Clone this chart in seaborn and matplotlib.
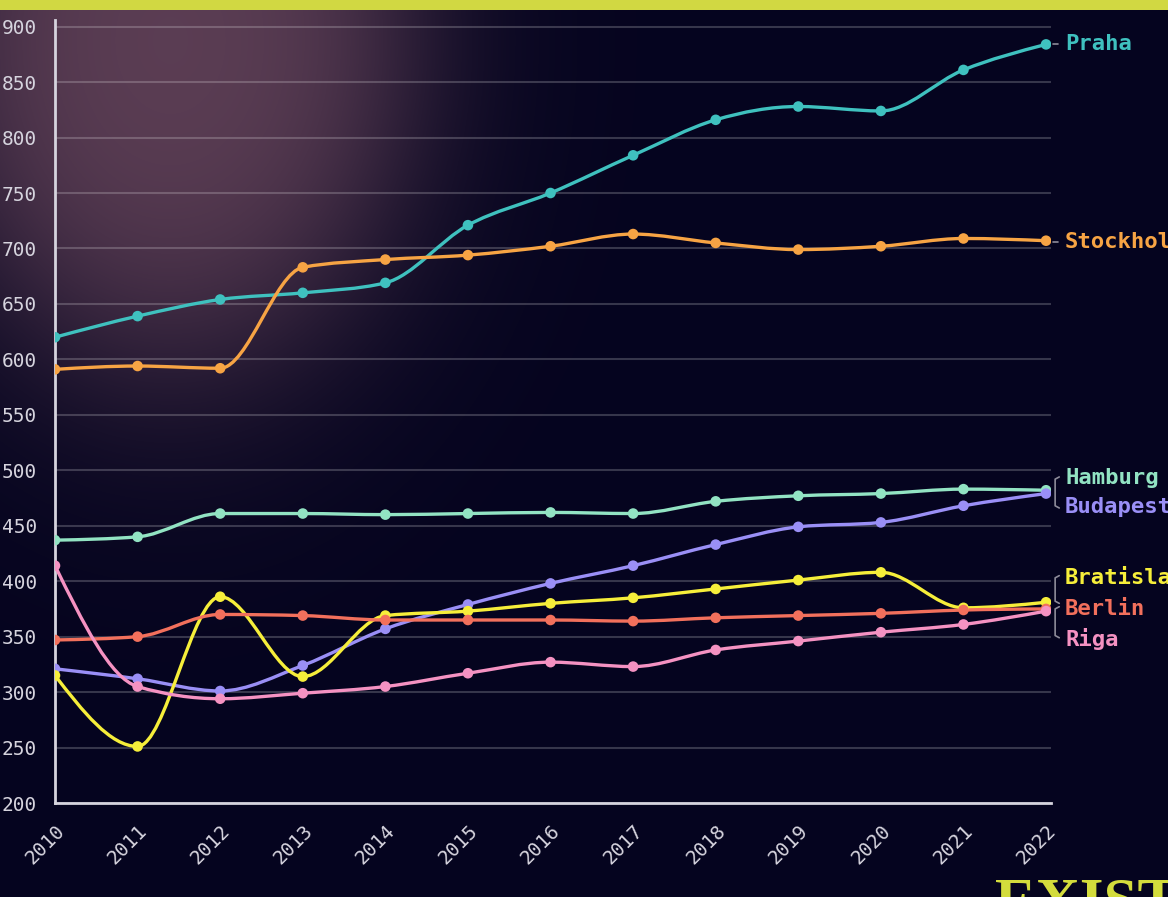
import numpy as np
import pandas as pd
import seaborn as sns
import matplotlib
matplotlib.use("Agg")
import matplotlib.pyplot as plt
from matplotlib.path import Path
from matplotlib.patches import PathPatch, Rectangle

years = list(range(2010, 2023))

praha = [620, 639, 654, 660, 669, 721, 750, 784, 816, 828, 824, 861, 884]
stockholm = [591, 594, 592, 683, 690, 694, 702, 713, 705, 699, 702, 709, 707]
hamburg = [437, 440, 461, 461, 460, 461, 462, 461, 472, 477, 479, 483, 482]
budapest = [321, 312, 301, 324, 357, 379, 398, 414, 433, 449, 453, 468, 479]
bratislava = [315, 251, 386, 314, 369, 373, 380, 385, 393, 401, 408, 376, 381]
berlin = [347, 350, 370, 369, 365, 365, 365, 364, 367, 369, 371, 374, 375]
riga = [414, 305, 294, 299, 305, 317, 327, 323, 338, 346, 354, 361, 373]

cities = ["Praha", "Stockholm", "Hamburg", "Budapest", "Bratislava", "Berlin", "Riga"]
series = [praha, stockholm, hamburg, budapest, bratislava, berlin, riga]
colors = ["#3fc1bf", "#f7a444", "#92e3c3", "#9a8ff6", "#f6ee3a", "#f2705c", "#f592c2"]
# label y positions (data units) for the right-hand labels
label_y = [884, 706, 493, 467, 403, 375, 348]

BG = "#05041f"


def monotone_path(xs, ys):
    # d3.curveMonotoneX as cubic bezier segments
    xs = np.asarray(xs, float)
    ys = np.asarray(ys, float)
    n = len(xs)
    h = np.diff(xs)
    s = np.diff(ys) / h
    t = np.zeros(n)
    for i in range(1, n - 1):
        p = (s[i - 1] * h[i] + s[i] * h[i - 1]) / (h[i - 1] + h[i])
        sg = (1 if s[i - 1] >= 0 else -1) + (1 if s[i] >= 0 else -1)
        t[i] = sg * min(abs(s[i - 1]), abs(s[i]), 0.5 * abs(p))
    t[0] = (3 * s[0] - t[1]) / 2
    t[-1] = (3 * s[-1] - t[-2]) / 2
    verts = [(xs[0], ys[0])]
    codes = [Path.MOVETO]
    for i in range(n - 1):
        dx = h[i] / 3
        verts += [(xs[i] + dx, ys[i] + dx * t[i]),
                  (xs[i + 1] - dx, ys[i + 1] - dx * t[i + 1]),
                  (xs[i + 1], ys[i + 1])]
        codes += [Path.CURVE4] * 3
    return Path(verts, codes)


sns.set_style("dark", {"axes.facecolor": "none", "figure.facecolor": BG})
plt.rcParams["font.family"] = ["DejaVu Sans Mono", "DejaVu Sans"]

fig = plt.figure(figsize=(11.68, 8.97), dpi=100)

# background with glow in the top-left corner
bg = fig.add_axes([0, 0, 1, 1], zorder=-10)
W, H = 1168, 897
gx, gy = np.meshgrid(np.arange(W), np.arange(H))
r = np.sqrt(((gx - 170) / 330.0) ** 2 + ((gy - 40) / 440.0) ** 2)
glow = 1 / (1 + np.exp((r - 0.70) / 0.16))
base = np.array([5, 4, 31], float)
peak = np.array([92, 62, 84], float)
img = base + glow[..., None] * (peak - base)
bg.imshow(img.astype(np.uint8), extent=[0, W, H, 0], aspect="auto")
bg.add_patch(Rectangle((0, 0), W, 10, color="#d1d842", lw=0))
bg.set_xlim(0, W)
bg.set_ylim(H, 0)
bg.axis("off")

ax = fig.add_axes([55 / 1168, 94 / 897, 996 / 1168, 783 / 897])
ax.set_facecolor("none")

df = pd.DataFrame({"year": years * len(cities),
                   "value": sum(series, []),
                   "city": sum([[c] * len(years) for c in cities], [])})

for vals, col in zip(series, colors):
    ax.add_patch(PathPatch(monotone_path(years, vals), fill=False, edgecolor=col,
                           lw=2.4, capstyle="round", joinstyle="round", zorder=3))

sns.scatterplot(data=df, x="year", y="value", hue="city", palette=colors,
                hue_order=cities, s=58, edgecolor="none", legend=False, ax=ax, zorder=4)

ax.set_xlim(2010, 2022.06)
ax.set_ylim(200, 906)
ax.set_yticks(range(200, 901, 50))
ax.set_xticks(years)
ax.set_xlabel("")
ax.set_ylabel("")
ax.grid(axis="y", color="white", alpha=0.2, lw=1.5)
ax.grid(axis="x", visible=False)
for side in ["top", "right"]:
    ax.spines[side].set_visible(False)
for side in ["left", "bottom"]:
    ax.spines[side].set_color("#d6d4de")
    ax.spines[side].set_linewidth(2)
ax.tick_params(axis="both", colors="#d6d4de", length=7, width=2, labelsize=14)
ax.tick_params(axis="y", pad=6)
ax.tick_params(axis="x", pad=6)
plt.setp(ax.get_xticklabels(), rotation=45, ha="right", va="top", rotation_mode="anchor")

# right-hand labels and connectors (cut by the right edge as in the source)
x_link = 2022.11
x_lab = 2022.23
for name, ly, col in zip(cities, label_y, colors):
    ax.text(x_lab, ly, name, color=col, fontsize=16, fontweight="bold",
            va="center", ha="left", clip_on=False)
gray = "#8d8b99"
for yv in [884, 706]:
    ax.plot([x_link - 0.02, x_link + 0.04], [yv, yv], color=gray, lw=1.2, clip_on=False)
for top, bot in [(494, 466), (405, 380), (377, 349)]:
    ax.plot([x_link + 0.05, x_link, x_link, x_link + 0.05], [top, top - 2, bot + 2, bot],
            color=gray, lw=1.2, clip_on=False)

fig.text(995 / 1168, -22 / 897, "EXIST", color="#d3dc3c", fontsize=44,
         fontweight="bold", family="Liberation Serif", ha="left", va="baseline")

fig.savefig("out.png", dpi=100, facecolor=BG)
